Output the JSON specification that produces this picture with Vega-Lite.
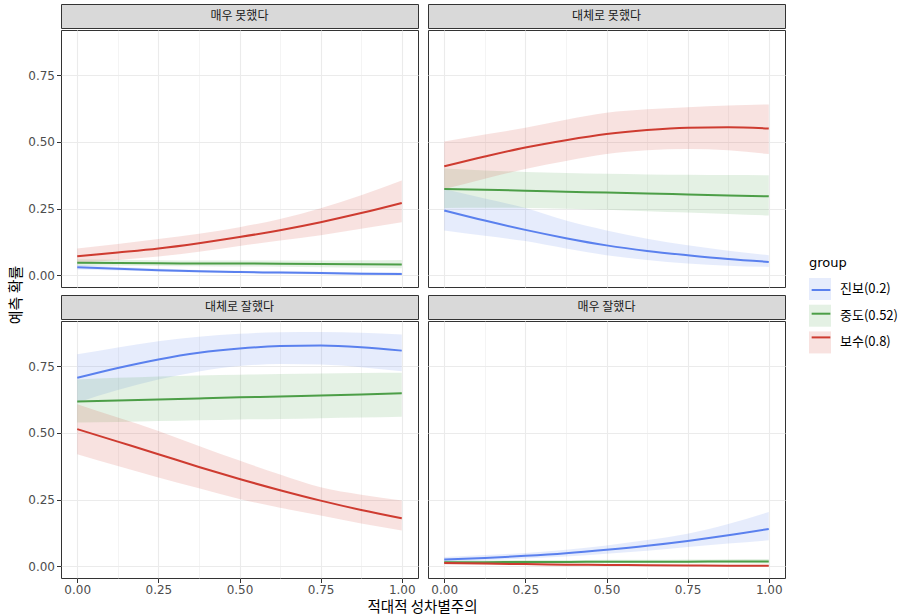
{
  "$schema": "https://vega.github.io/schema/vega-lite/v6.json",
  "padding": {"left": 9, "top": 3, "right": 5, "bottom": 0},
  "background": "white",
  "config": {
    "view": {"stroke": "#333333", "strokeWidth": 1, "fill": "white"},
    "axis": {"domain": false, "grid": true, "gridColor": "#EBEBEB", "tickColor": "#333333", "tickSize": 4.5, "tickWidth": 1, "labelColor": "#4D4D4D", "labelFontSize": 12, "labelFont": "DejaVu Sans", "labelPadding": 2}
  },
  "datasets": {
    "strips": [{"f": "매우 못했다"}, {"f": "대체로 못했다"}, {"f": "대체로 잘했다"}, {"f": "매우 잘했다"}],
    "d": [
      {"f":"매우 못했다","g":"진보(0.2)","x":0,"y":0.030,"lo":0.022,"hi":0.039},
      {"f":"매우 못했다","g":"진보(0.2)","x":0.125,"y":0.024,"lo":0.018,"hi":0.031},
      {"f":"매우 못했다","g":"진보(0.2)","x":0.25,"y":0.019,"lo":0.014,"hi":0.025},
      {"f":"매우 못했다","g":"진보(0.2)","x":0.375,"y":0.015,"lo":0.010,"hi":0.020},
      {"f":"매우 못했다","g":"진보(0.2)","x":0.5,"y":0.012,"lo":0.008,"hi":0.017},
      {"f":"매우 못했다","g":"진보(0.2)","x":0.625,"y":0.010,"lo":0.006,"hi":0.015},
      {"f":"매우 못했다","g":"진보(0.2)","x":0.75,"y":0.008,"lo":0.004,"hi":0.013},
      {"f":"매우 못했다","g":"진보(0.2)","x":0.875,"y":0.006,"lo":0.003,"hi":0.011},
      {"f":"매우 못했다","g":"진보(0.2)","x":1,"y":0.005,"lo":0.002,"hi":0.010},
      {"f":"매우 못했다","g":"중도(0.52)","x":0,"y":0.047,"lo":0.036,"hi":0.060},
      {"f":"매우 못했다","g":"중도(0.52)","x":0.125,"y":0.046,"lo":0.036,"hi":0.058},
      {"f":"매우 못했다","g":"중도(0.52)","x":0.25,"y":0.045,"lo":0.035,"hi":0.056},
      {"f":"매우 못했다","g":"중도(0.52)","x":0.375,"y":0.044,"lo":0.034,"hi":0.055},
      {"f":"매우 못했다","g":"중도(0.52)","x":0.5,"y":0.044,"lo":0.033,"hi":0.055},
      {"f":"매우 못했다","g":"중도(0.52)","x":0.625,"y":0.043,"lo":0.032,"hi":0.055},
      {"f":"매우 못했다","g":"중도(0.52)","x":0.75,"y":0.042,"lo":0.030,"hi":0.055},
      {"f":"매우 못했다","g":"중도(0.52)","x":0.875,"y":0.041,"lo":0.028,"hi":0.056},
      {"f":"매우 못했다","g":"중도(0.52)","x":1,"y":0.040,"lo":0.026,"hi":0.057},
      {"f":"매우 못했다","g":"보수(0.8)","x":0,"y":0.071,"lo":0.046,"hi":0.100},
      {"f":"매우 못했다","g":"보수(0.8)","x":0.125,"y":0.085,"lo":0.057,"hi":0.117},
      {"f":"매우 못했다","g":"보수(0.8)","x":0.25,"y":0.100,"lo":0.070,"hi":0.136},
      {"f":"매우 못했다","g":"보수(0.8)","x":0.375,"y":0.120,"lo":0.088,"hi":0.156},
      {"f":"매우 못했다","g":"보수(0.8)","x":0.5,"y":0.143,"lo":0.110,"hi":0.180},
      {"f":"매우 못했다","g":"보수(0.8)","x":0.625,"y":0.169,"lo":0.130,"hi":0.211},
      {"f":"매우 못했다","g":"보수(0.8)","x":0.75,"y":0.199,"lo":0.150,"hi":0.251},
      {"f":"매우 못했다","g":"보수(0.8)","x":0.875,"y":0.233,"lo":0.174,"hi":0.300},
      {"f":"매우 못했다","g":"보수(0.8)","x":1,"y":0.271,"lo":0.199,"hi":0.355},
      {"f":"대체로 못했다","g":"진보(0.2)","x":0,"y":0.243,"lo":0.168,"hi":0.323},
      {"f":"대체로 못했다","g":"진보(0.2)","x":0.125,"y":0.205,"lo":0.148,"hi":0.288},
      {"f":"대체로 못했다","g":"진보(0.2)","x":0.25,"y":0.170,"lo":0.128,"hi":0.252},
      {"f":"대체로 못했다","g":"진보(0.2)","x":0.375,"y":0.139,"lo":0.100,"hi":0.205},
      {"f":"대체로 못했다","g":"진보(0.2)","x":0.5,"y":0.112,"lo":0.075,"hi":0.168},
      {"f":"대체로 못했다","g":"진보(0.2)","x":0.625,"y":0.091,"lo":0.057,"hi":0.137},
      {"f":"대체로 못했다","g":"진보(0.2)","x":0.75,"y":0.075,"lo":0.044,"hi":0.112},
      {"f":"대체로 못했다","g":"진보(0.2)","x":0.875,"y":0.061,"lo":0.036,"hi":0.092},
      {"f":"대체로 못했다","g":"진보(0.2)","x":1,"y":0.050,"lo":0.031,"hi":0.075},
      {"f":"대체로 못했다","g":"중도(0.52)","x":0,"y":0.323,"lo":0.252,"hi":0.400},
      {"f":"대체로 못했다","g":"중도(0.52)","x":0.125,"y":0.320,"lo":0.253,"hi":0.393},
      {"f":"대체로 못했다","g":"중도(0.52)","x":0.25,"y":0.317,"lo":0.252,"hi":0.387},
      {"f":"대체로 못했다","g":"중도(0.52)","x":0.375,"y":0.313,"lo":0.249,"hi":0.383},
      {"f":"대체로 못했다","g":"중도(0.52)","x":0.5,"y":0.310,"lo":0.245,"hi":0.380},
      {"f":"대체로 못했다","g":"중도(0.52)","x":0.625,"y":0.306,"lo":0.240,"hi":0.378},
      {"f":"대체로 못했다","g":"중도(0.52)","x":0.75,"y":0.303,"lo":0.235,"hi":0.377},
      {"f":"대체로 못했다","g":"중도(0.52)","x":0.875,"y":0.299,"lo":0.230,"hi":0.376},
      {"f":"대체로 못했다","g":"중도(0.52)","x":1,"y":0.296,"lo":0.224,"hi":0.375},
      {"f":"대체로 못했다","g":"보수(0.8)","x":0,"y":0.408,"lo":0.323,"hi":0.501},
      {"f":"대체로 못했다","g":"보수(0.8)","x":0.125,"y":0.445,"lo":0.362,"hi":0.527},
      {"f":"대체로 못했다","g":"보수(0.8)","x":0.25,"y":0.479,"lo":0.398,"hi":0.553},
      {"f":"대체로 못했다","g":"보수(0.8)","x":0.375,"y":0.506,"lo":0.428,"hi":0.583},
      {"f":"대체로 못했다","g":"보수(0.8)","x":0.5,"y":0.529,"lo":0.454,"hi":0.609},
      {"f":"대체로 못했다","g":"보수(0.8)","x":0.625,"y":0.544,"lo":0.468,"hi":0.622},
      {"f":"대체로 못했다","g":"보수(0.8)","x":0.75,"y":0.553,"lo":0.473,"hi":0.630},
      {"f":"대체로 못했다","g":"보수(0.8)","x":0.875,"y":0.555,"lo":0.468,"hi":0.636},
      {"f":"대체로 못했다","g":"보수(0.8)","x":1,"y":0.550,"lo":0.454,"hi":0.640},
      {"f":"대체로 잘했다","g":"진보(0.2)","x":0,"y":0.706,"lo":0.613,"hi":0.794},
      {"f":"대체로 잘했다","g":"진보(0.2)","x":0.125,"y":0.743,"lo":0.660,"hi":0.820},
      {"f":"대체로 잘했다","g":"진보(0.2)","x":0.25,"y":0.775,"lo":0.700,"hi":0.843},
      {"f":"대체로 잘했다","g":"진보(0.2)","x":0.375,"y":0.800,"lo":0.730,"hi":0.860},
      {"f":"대체로 잘했다","g":"진보(0.2)","x":0.5,"y":0.816,"lo":0.750,"hi":0.871},
      {"f":"대체로 잘했다","g":"진보(0.2)","x":0.625,"y":0.825,"lo":0.758,"hi":0.877},
      {"f":"대체로 잘했다","g":"진보(0.2)","x":0.75,"y":0.827,"lo":0.756,"hi":0.878},
      {"f":"대체로 잘했다","g":"진보(0.2)","x":0.875,"y":0.821,"lo":0.746,"hi":0.875},
      {"f":"대체로 잘했다","g":"진보(0.2)","x":1,"y":0.808,"lo":0.731,"hi":0.868},
      {"f":"대체로 잘했다","g":"중도(0.52)","x":0,"y":0.617,"lo":0.539,"hi":0.700},
      {"f":"대체로 잘했다","g":"중도(0.52)","x":0.125,"y":0.621,"lo":0.541,"hi":0.706},
      {"f":"대체로 잘했다","g":"중도(0.52)","x":0.25,"y":0.625,"lo":0.544,"hi":0.711},
      {"f":"대체로 잘했다","g":"중도(0.52)","x":0.375,"y":0.629,"lo":0.547,"hi":0.715},
      {"f":"대체로 잘했다","g":"중도(0.52)","x":0.5,"y":0.633,"lo":0.550,"hi":0.718},
      {"f":"대체로 잘했다","g":"중도(0.52)","x":0.625,"y":0.636,"lo":0.552,"hi":0.720},
      {"f":"대체로 잘했다","g":"중도(0.52)","x":0.75,"y":0.640,"lo":0.555,"hi":0.722},
      {"f":"대체로 잘했다","g":"중도(0.52)","x":0.875,"y":0.644,"lo":0.557,"hi":0.724},
      {"f":"대체로 잘했다","g":"중도(0.52)","x":1,"y":0.648,"lo":0.560,"hi":0.725},
      {"f":"대체로 잘했다","g":"보수(0.8)","x":0,"y":0.514,"lo":0.420,"hi":0.607},
      {"f":"대체로 잘했다","g":"보수(0.8)","x":0.125,"y":0.467,"lo":0.376,"hi":0.557},
      {"f":"대체로 잘했다","g":"보수(0.8)","x":0.25,"y":0.420,"lo":0.333,"hi":0.507},
      {"f":"대체로 잘했다","g":"보수(0.8)","x":0.375,"y":0.372,"lo":0.292,"hi":0.451},
      {"f":"대체로 잘했다","g":"보수(0.8)","x":0.5,"y":0.327,"lo":0.252,"hi":0.396},
      {"f":"대체로 잘했다","g":"보수(0.8)","x":0.625,"y":0.285,"lo":0.219,"hi":0.344},
      {"f":"대체로 잘했다","g":"보수(0.8)","x":0.75,"y":0.246,"lo":0.190,"hi":0.296},
      {"f":"대체로 잘했다","g":"보수(0.8)","x":0.875,"y":0.211,"lo":0.160,"hi":0.268},
      {"f":"대체로 잘했다","g":"보수(0.8)","x":1,"y":0.180,"lo":0.134,"hi":0.246},
      {"f":"매우 잘했다","g":"진보(0.2)","x":0,"y":0.025,"lo":0.016,"hi":0.035},
      {"f":"매우 잘했다","g":"진보(0.2)","x":0.125,"y":0.031,"lo":0.022,"hi":0.042},
      {"f":"매우 잘했다","g":"진보(0.2)","x":0.25,"y":0.039,"lo":0.029,"hi":0.050},
      {"f":"매우 잘했다","g":"진보(0.2)","x":0.375,"y":0.049,"lo":0.037,"hi":0.062},
      {"f":"매우 잘했다","g":"진보(0.2)","x":0.5,"y":0.062,"lo":0.047,"hi":0.078},
      {"f":"매우 잘했다","g":"진보(0.2)","x":0.625,"y":0.077,"lo":0.058,"hi":0.098},
      {"f":"매우 잘했다","g":"진보(0.2)","x":0.75,"y":0.095,"lo":0.072,"hi":0.122},
      {"f":"매우 잘했다","g":"진보(0.2)","x":0.875,"y":0.116,"lo":0.085,"hi":0.158},
      {"f":"매우 잘했다","g":"진보(0.2)","x":1,"y":0.140,"lo":0.097,"hi":0.203},
      {"f":"매우 잘했다","g":"중도(0.52)","x":0,"y":0.015,"lo":0.009,"hi":0.022},
      {"f":"매우 잘했다","g":"중도(0.52)","x":0.125,"y":0.015,"lo":0.010,"hi":0.022},
      {"f":"매우 잘했다","g":"중도(0.52)","x":0.25,"y":0.016,"lo":0.010,"hi":0.023},
      {"f":"매우 잘했다","g":"중도(0.52)","x":0.375,"y":0.016,"lo":0.011,"hi":0.023},
      {"f":"매우 잘했다","g":"중도(0.52)","x":0.5,"y":0.017,"lo":0.011,"hi":0.024},
      {"f":"매우 잘했다","g":"중도(0.52)","x":0.625,"y":0.017,"lo":0.011,"hi":0.024},
      {"f":"매우 잘했다","g":"중도(0.52)","x":0.75,"y":0.017,"lo":0.011,"hi":0.025},
      {"f":"매우 잘했다","g":"중도(0.52)","x":0.875,"y":0.018,"lo":0.011,"hi":0.026},
      {"f":"매우 잘했다","g":"중도(0.52)","x":1,"y":0.018,"lo":0.010,"hi":0.027},
      {"f":"매우 잘했다","g":"보수(0.8)","x":0,"y":0.012,"lo":0.007,"hi":0.018},
      {"f":"매우 잘했다","g":"보수(0.8)","x":0.125,"y":0.010,"lo":0.006,"hi":0.015},
      {"f":"매우 잘했다","g":"보수(0.8)","x":0.25,"y":0.008,"lo":0.004,"hi":0.012},
      {"f":"매우 잘했다","g":"보수(0.8)","x":0.375,"y":0.006,"lo":0.003,"hi":0.010},
      {"f":"매우 잘했다","g":"보수(0.8)","x":0.5,"y":0.005,"lo":0.002,"hi":0.008},
      {"f":"매우 잘했다","g":"보수(0.8)","x":0.625,"y":0.004,"lo":0.001,"hi":0.007},
      {"f":"매우 잘했다","g":"보수(0.8)","x":0.75,"y":0.003,"lo":0.001,"hi":0.006},
      {"f":"매우 잘했다","g":"보수(0.8)","x":0.875,"y":0.002,"lo":0.000,"hi":0.005},
      {"f":"매우 잘했다","g":"보수(0.8)","x":1,"y":0.002,"lo":0.000,"hi":0.005}
    ]
  },
  "spacing": 3,
  "hconcat": [
    {
      "width": 14, "height": 582,
      "data": {"values": [{"t": "예측 확률"}]},
      "mark": {"type": "text", "angle": 270, "font": "Noto Sans CJK KR", "fontSize": 15, "color": "#000000"},
      "encoding": {"text": {"field": "t"}},
      "view": {"stroke": null, "fill": null}
    },
    {
      "spacing": 3,
      "vconcat": [
        {
          "spacing": 6,
          "vconcat": [
            {
              "spacing": 8,
              "hconcat": [
                {
                  "spacing": 0,
                  "vconcat": [
                    {"width": 357, "height": 24, "data": {"name": "strips"}, "transform": [{"filter": "datum.f === '매우 못했다'"}],
                     "mark": {"type": "text", "font": "Noto Sans CJK KR", "fontSize": 12, "color": "#1A1A1A"},
                     "encoding": {"text": {"field": "f"},
                       "y": {"field": "f", "type": "nominal", "title": null, "axis": {"labelExpr": "'0.00'", "labelOpacity": 0, "tickOpacity": 0, "grid": false}}},
                     "view": {"fill": "#D9D9D9", "stroke": "#333333"}},
                    {"width": 357, "height": 257, "data": {"name": "d"}, "transform": [{"filter": "datum.f === '매우 못했다'"}],
                     "encoding": {"x": {"field": "x", "type": "quantitative", "title": null, "scale": {"domain": [-0.05, 1.05], "nice": false, "zero": false},
                        "axis": {"values": [0,0.125,0.25,0.375,0.5,0.625,0.75,0.875,1], "labels": false, "ticks": false,
                                 "gridWidth": {"condition": {"test": "abs(datum.value*4-round(datum.value*4))<0.01", "value": 1.1}, "value": 0.55}}}},
                     "layer": [
                       {"mark": {"type": "area", "interpolate": "monotone", "fillOpacity": 0.15},
                        "encoding": {
                          "y": {"field": "lo", "type": "quantitative", "title": null, "scale": {"domain": [-0.044, 0.919], "nice": false, "zero": false},
                            "axis": {"values": [0,0.125,0.25,0.375,0.5,0.625,0.75,0.875],
                              "labelExpr": "abs(datum.value*4-round(datum.value*4))<0.01 ? format(datum.value, '.2f') : ''",
                              "tickOpacity": {"condition": {"test": "abs(datum.value*4-round(datum.value*4))<0.01", "value": 1}, "value": 0},
                              "gridWidth": {"condition": {"test": "abs(datum.value*4-round(datum.value*4))<0.01", "value": 1.1}, "value": 0.55}}},
                          "y2": {"field": "hi"},
                          "fill": {"field": "g", "type": "nominal", "scale": {"domain": ["진보(0.2)", "중도(0.52)", "보수(0.8)"], "range": ["#5A80EE", "#4C9E47", "#CE3B30"]},
                            "legend": {"orient": "none", "legendX": 800, "legendY": 253, "title": "group", "titleFont": "DejaVu Sans", "titleFontSize": 13, "titleFontWeight": "normal", "titleColor": "#000000", "titlePadding": 8,
                              "symbolType": "square", "symbolSize": 484, "symbolOpacity": 0.15, "symbolStrokeWidth": 0,
                              "labelFont": "Noto Sans CJK KR", "labelFontSize": 13, "labelColor": "#000000", "labelOffset": 9, "rowPadding": 4.7, "padding": 0}}
                        }},
                       {"mark": {"type": "line", "interpolate": "monotone", "strokeWidth": 2},
                        "encoding": {
                          "y": {"field": "y", "type": "quantitative", "title": null},
                          "stroke": {"field": "g", "type": "nominal", "sort": ["진보(0.2)", "중도(0.52)", "보수(0.8)"], "scale": {"range": ["#5A80EE", "#4C9E47", "#CE3B30"]},
                            "legend": {"orient": "none", "legendX": 800, "legendY": 253, "title": " ", "titleFont": "DejaVu Sans", "titleFontSize": 13, "titleFontWeight": "normal", "titlePadding": 8,
                              "symbolType": "M-0.85,0H0.85", "symbolSize": 484, "symbolStrokeWidth": 2,
                              "labelFont": "Noto Sans CJK KR", "labelFontSize": 13, "labelExpr": "''", "labelOffset": 9, "rowPadding": 4.7, "padding": 0}}
                        }}
                     ]}
                  ]
                },
                {
                  "spacing": 0,
                  "vconcat": [
                    {"width": 357, "height": 24, "data": {"name": "strips"}, "transform": [{"filter": "datum.f === '대체로 못했다'"}],
                     "mark": {"type": "text", "font": "Noto Sans CJK KR", "fontSize": 12, "color": "#1A1A1A"},
                     "encoding": {"text": {"field": "f"}}, "view": {"fill": "#D9D9D9", "stroke": "#333333"}},
                    {"width": 357, "height": 257, "data": {"name": "d"}, "transform": [{"filter": "datum.f === '대체로 못했다'"}],
                     "encoding": {"x": {"field": "x", "type": "quantitative", "title": null, "scale": {"domain": [-0.05, 1.05], "nice": false, "zero": false},
                        "axis": {"values": [0,0.125,0.25,0.375,0.5,0.625,0.75,0.875,1], "labels": false, "ticks": false,
                                 "gridWidth": {"condition": {"test": "abs(datum.value*4-round(datum.value*4))<0.01", "value": 1.1}, "value": 0.55}}}},
                     "layer": [
                       {"mark": {"type": "area", "interpolate": "monotone", "fillOpacity": 0.15},
                        "encoding": {
                          "y": {"field": "lo", "type": "quantitative", "title": null, "scale": {"domain": [-0.044, 0.919], "nice": false, "zero": false},
                            "axis": {"values": [0,0.125,0.25,0.375,0.5,0.625,0.75,0.875], "labels": false, "ticks": false,
                              "gridWidth": {"condition": {"test": "abs(datum.value*4-round(datum.value*4))<0.01", "value": 1.1}, "value": 0.55}}},
                          "y2": {"field": "hi"},
                          "fill": {"field": "g", "type": "nominal", "scale": {"domain": ["진보(0.2)", "중도(0.52)", "보수(0.8)"], "range": ["#5A80EE", "#4C9E47", "#CE3B30"]},
                            "legend": {"orient": "none", "legendX": 800, "legendY": 253, "title": "group", "titleFont": "DejaVu Sans", "titleFontSize": 13, "titleFontWeight": "normal", "titleColor": "#000000", "titlePadding": 8,
                              "symbolType": "square", "symbolSize": 484, "symbolOpacity": 0.15, "symbolStrokeWidth": 0,
                              "labelFont": "Noto Sans CJK KR", "labelFontSize": 13, "labelColor": "#000000", "labelOffset": 9, "rowPadding": 4.7, "padding": 0}}
                        }},
                       {"mark": {"type": "line", "interpolate": "monotone", "strokeWidth": 2},
                        "encoding": {
                          "y": {"field": "y", "type": "quantitative", "title": null},
                          "stroke": {"field": "g", "type": "nominal", "sort": ["진보(0.2)", "중도(0.52)", "보수(0.8)"], "scale": {"range": ["#5A80EE", "#4C9E47", "#CE3B30"]},
                            "legend": {"orient": "none", "legendX": 800, "legendY": 253, "title": " ", "titleFont": "DejaVu Sans", "titleFontSize": 13, "titleFontWeight": "normal", "titlePadding": 8,
                              "symbolType": "M-0.85,0H0.85", "symbolSize": 484, "symbolStrokeWidth": 2,
                              "labelFont": "Noto Sans CJK KR", "labelFontSize": 13, "labelExpr": "''", "labelOffset": 9, "rowPadding": 4.7, "padding": 0}}
                        }}
                     ]}
                  ]
                }
              ]
            },
            {
              "spacing": 8,
              "hconcat": [
                {
                  "spacing": 0,
                  "vconcat": [
                    {"width": 357, "height": 24, "data": {"name": "strips"}, "transform": [{"filter": "datum.f === '대체로 잘했다'"}],
                     "mark": {"type": "text", "font": "Noto Sans CJK KR", "fontSize": 12, "color": "#1A1A1A"},
                     "encoding": {"text": {"field": "f"},
                       "y": {"field": "f", "type": "nominal", "title": null, "axis": {"labelExpr": "'0.00'", "labelOpacity": 0, "tickOpacity": 0, "grid": false}}},
                     "view": {"fill": "#D9D9D9", "stroke": "#333333"}},
                    {"width": 357, "height": 257, "data": {"name": "d"}, "transform": [{"filter": "datum.f === '대체로 잘했다'"}],
                     "encoding": {"x": {"field": "x", "type": "quantitative", "title": null, "scale": {"domain": [-0.05, 1.05], "nice": false, "zero": false},
                        "axis": {"values": [0,0.125,0.25,0.375,0.5,0.625,0.75,0.875,1],
                                 "labelExpr": "abs(datum.value*4-round(datum.value*4))<0.01 ? format(datum.value, '.2f') : ''",
                                 "tickOpacity": {"condition": {"test": "abs(datum.value*4-round(datum.value*4))<0.01", "value": 1}, "value": 0},
                                 "gridWidth": {"condition": {"test": "abs(datum.value*4-round(datum.value*4))<0.01", "value": 1.1}, "value": 0.55}}}},
                     "layer": [
                       {"mark": {"type": "area", "interpolate": "monotone", "fillOpacity": 0.15},
                        "encoding": {
                          "y": {"field": "lo", "type": "quantitative", "title": null, "scale": {"domain": [-0.044, 0.919], "nice": false, "zero": false},
                            "axis": {"values": [0,0.125,0.25,0.375,0.5,0.625,0.75,0.875],
                              "labelExpr": "abs(datum.value*4-round(datum.value*4))<0.01 ? format(datum.value, '.2f') : ''",
                              "tickOpacity": {"condition": {"test": "abs(datum.value*4-round(datum.value*4))<0.01", "value": 1}, "value": 0},
                              "gridWidth": {"condition": {"test": "abs(datum.value*4-round(datum.value*4))<0.01", "value": 1.1}, "value": 0.55}}},
                          "y2": {"field": "hi"},
                          "fill": {"field": "g", "type": "nominal", "scale": {"domain": ["진보(0.2)", "중도(0.52)", "보수(0.8)"], "range": ["#5A80EE", "#4C9E47", "#CE3B30"]},
                            "legend": {"orient": "none", "legendX": 800, "legendY": 253, "title": "group", "titleFont": "DejaVu Sans", "titleFontSize": 13, "titleFontWeight": "normal", "titleColor": "#000000", "titlePadding": 8,
                              "symbolType": "square", "symbolSize": 484, "symbolOpacity": 0.15, "symbolStrokeWidth": 0,
                              "labelFont": "Noto Sans CJK KR", "labelFontSize": 13, "labelColor": "#000000", "labelOffset": 9, "rowPadding": 4.7, "padding": 0}}
                        }},
                       {"mark": {"type": "line", "interpolate": "monotone", "strokeWidth": 2},
                        "encoding": {
                          "y": {"field": "y", "type": "quantitative", "title": null},
                          "stroke": {"field": "g", "type": "nominal", "sort": ["진보(0.2)", "중도(0.52)", "보수(0.8)"], "scale": {"range": ["#5A80EE", "#4C9E47", "#CE3B30"]},
                            "legend": {"orient": "none", "legendX": 800, "legendY": 253, "title": " ", "titleFont": "DejaVu Sans", "titleFontSize": 13, "titleFontWeight": "normal", "titlePadding": 8,
                              "symbolType": "M-0.85,0H0.85", "symbolSize": 484, "symbolStrokeWidth": 2,
                              "labelFont": "Noto Sans CJK KR", "labelFontSize": 13, "labelExpr": "''", "labelOffset": 9, "rowPadding": 4.7, "padding": 0}}
                        }}
                     ]}
                  ]
                },
                {
                  "spacing": 0,
                  "vconcat": [
                    {"width": 357, "height": 24, "data": {"name": "strips"}, "transform": [{"filter": "datum.f === '매우 잘했다'"}],
                     "mark": {"type": "text", "font": "Noto Sans CJK KR", "fontSize": 12, "color": "#1A1A1A"},
                     "encoding": {"text": {"field": "f"}}, "view": {"fill": "#D9D9D9", "stroke": "#333333"}},
                    {"width": 357, "height": 257, "data": {"name": "d"}, "transform": [{"filter": "datum.f === '매우 잘했다'"}],
                     "encoding": {"x": {"field": "x", "type": "quantitative", "title": null, "scale": {"domain": [-0.05, 1.05], "nice": false, "zero": false},
                        "axis": {"values": [0,0.125,0.25,0.375,0.5,0.625,0.75,0.875,1],
                                 "labelExpr": "abs(datum.value*4-round(datum.value*4))<0.01 ? format(datum.value, '.2f') : ''",
                                 "tickOpacity": {"condition": {"test": "abs(datum.value*4-round(datum.value*4))<0.01", "value": 1}, "value": 0},
                                 "gridWidth": {"condition": {"test": "abs(datum.value*4-round(datum.value*4))<0.01", "value": 1.1}, "value": 0.55}}}},
                     "layer": [
                       {"mark": {"type": "area", "interpolate": "monotone", "fillOpacity": 0.15},
                        "encoding": {
                          "y": {"field": "lo", "type": "quantitative", "title": null, "scale": {"domain": [-0.044, 0.919], "nice": false, "zero": false},
                            "axis": {"values": [0,0.125,0.25,0.375,0.5,0.625,0.75,0.875], "labels": false, "ticks": false,
                              "gridWidth": {"condition": {"test": "abs(datum.value*4-round(datum.value*4))<0.01", "value": 1.1}, "value": 0.55}}},
                          "y2": {"field": "hi"},
                          "fill": {"field": "g", "type": "nominal", "scale": {"domain": ["진보(0.2)", "중도(0.52)", "보수(0.8)"], "range": ["#5A80EE", "#4C9E47", "#CE3B30"]},
                            "legend": {"orient": "none", "legendX": 800, "legendY": 253, "title": "group", "titleFont": "DejaVu Sans", "titleFontSize": 13, "titleFontWeight": "normal", "titleColor": "#000000", "titlePadding": 8,
                              "symbolType": "square", "symbolSize": 484, "symbolOpacity": 0.15, "symbolStrokeWidth": 0,
                              "labelFont": "Noto Sans CJK KR", "labelFontSize": 13, "labelColor": "#000000", "labelOffset": 9, "rowPadding": 4.7, "padding": 0}}
                        }},
                       {"mark": {"type": "line", "interpolate": "monotone", "strokeWidth": 2},
                        "encoding": {
                          "y": {"field": "y", "type": "quantitative", "title": null},
                          "stroke": {"field": "g", "type": "nominal", "sort": ["진보(0.2)", "중도(0.52)", "보수(0.8)"], "scale": {"range": ["#5A80EE", "#4C9E47", "#CE3B30"]},
                            "legend": {"orient": "none", "legendX": 800, "legendY": 253, "title": " ", "titleFont": "DejaVu Sans", "titleFontSize": 13, "titleFontWeight": "normal", "titlePadding": 8,
                              "symbolType": "M-0.85,0H0.85", "symbolSize": 484, "symbolStrokeWidth": 2,
                              "labelFont": "Noto Sans CJK KR", "labelFontSize": 13, "labelExpr": "''", "labelOffset": 9, "rowPadding": 4.7, "padding": 0}}
                        }}
                     ]}
                  ]
                }
              ]
            }
          ]
        },
        {
          "width": 723, "height": 15,
          "data": {"values": [{"t": "적대적 성차별주의"}]},
          "mark": {"type": "text", "font": "Noto Sans CJK KR", "fontSize": 14.5, "color": "#000000"},
          "encoding": {"text": {"field": "t"},
            "y": {"field": "t", "type": "nominal", "title": null, "axis": {"labelExpr": "'0.00'", "labelOpacity": 0, "tickOpacity": 0, "grid": false}}},
          "view": {"stroke": null, "fill": null}
        }
      ]
    }
  ]
}
